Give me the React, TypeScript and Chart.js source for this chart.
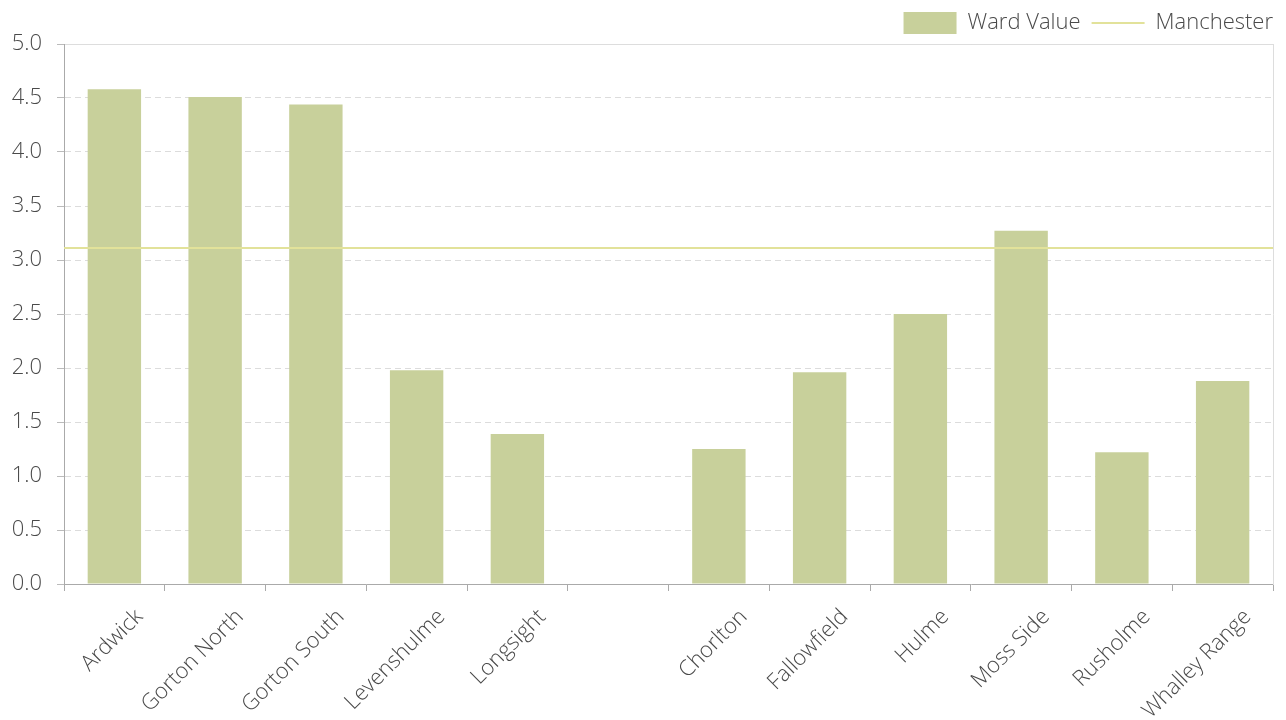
import React, { useEffect, useRef } from "react";
import { Chart, registerables } from "chart.js";

Chart.register(...registerables);

const categories = [
  "Ardwick",
  "Gorton North",
  "Gorton South",
  "Levenshulme",
  "Longsight",
  "",
  "Chorlton",
  "Fallowfield",
  "Hulme",
  "Moss Side",
  "Rusholme",
  "Whalley Range",
];
const wardValues = [4.58, 4.51, 4.44, 1.98, 1.39, null, 1.25, 1.96, 2.5, 3.27, 1.22, 1.88];
const manchesterValue = 3.11;
const yMin = 0;
const yMax = 5;
const yStep = 0.5;

const FONT = "'Open Sans', 'DejaVu Sans', sans-serif";
const TEXT = "#4a4a4a";

export default function App() {
  const ref = useRef<HTMLCanvasElement>(null);

  useEffect(() => {
    if (!ref.current) return;
    const chart = new Chart(ref.current, {
      type: "bar",
      data: {
        labels: categories,
        datasets: [
          {
            type: "bar",
            label: "Ward Value",
            data: wardValues as any,
            backgroundColor: "#c8d09b",
            borderWidth: 0,
            barPercentage: 0.53,
            categoryPercentage: 1,
            grouped: false,
            pointStyle: "rect",
            order: 1,
          } as any,
          {
            type: "line",
            label: "Manchester",
            data: [
              { x: 0, y: manchesterValue },
              { x: 1, y: manchesterValue },
            ],
            xAxisID: "xLine",
            borderColor: "#e2e29a",
            backgroundColor: "#e2e29a",
            borderWidth: 2,
            pointRadius: 0,
            pointStyle: "line",
            order: 0,
          } as any,
        ],
      },
      options: {
        animation: false,
        responsive: false,
        layout: { padding: { left: 0, right: 2, top: 1, bottom: 0 } },
        plugins: {
          tooltip: { enabled: false },
          legend: {
            position: "top",
            align: "end",
            labels: {
              usePointStyle: true,
              pointStyleWidth: 53,
              boxHeight: 22,
              padding: 11,
              color: TEXT,
              font: { family: FONT, size: 22, weight: "300" },
              sort: (a: any, b: any) => a.datasetIndex - b.datasetIndex,
            },
          },
        },
        scales: {
          x: {
            type: "category",
            offset: true,
            grid: {
              display: true,
              drawOnChartArea: false,
              drawTicks: true,
              tickLength: 7,
              tickColor: "#aaaaaa",
              offset: true,
            },
            border: { display: true, color: "#aaaaaa", width: 1 },
            ticks: {
              color: TEXT,
              font: { family: FONT, size: 22, weight: "300" },
              minRotation: 45,
              maxRotation: 45,
              padding: 13,
              labelOffset: 25,
              autoSkip: false,
            },
            afterFit: (scale: any) => {
              scale.paddingLeft = 0;
              scale.paddingRight = 0;
              scale.height = 136;
            },
          },
          xLine: {
            type: "linear",
            position: "top",
            min: 0,
            max: 1,
            offset: false,
            display: true,
            grid: { display: false, drawTicks: false },
            ticks: { display: false },
            border: { display: true, color: "#dddddd", width: 1 },
          },
          y: {
            type: "linear",
            min: yMin,
            max: yMax,
            ticks: {
              stepSize: yStep,
              color: TEXT,
              font: { family: FONT, size: 22, weight: "300" },
              padding: 15,
              callback: (v: any) => Number(v).toFixed(1),
            },
            grid: {
              color: "#dcdcdc",
              lineWidth: 1,
              drawTicks: true,
              tickLength: 7,
              tickColor: "#bbbbbb",
            },
            border: {
              display: true,
              color: "#aaaaaa",
              width: 1,
              dash: (ctx: any) => (ctx.tick && ctx.tick.value === yMax ? [] : [6, 4]),
            },
            afterFit: (scale: any) => {
              scale.width = 64;
            },
          },
          yRight: {
            type: "linear",
            position: "right",
            min: yMin,
            max: yMax,
            display: true,
            grid: { display: false, drawTicks: false },
            ticks: { display: false },
            border: { display: true, color: "#dddddd", width: 1 },
            afterFit: (scale: any) => {
              scale.width = 11;
            },
          },
        },
      } as any,
    });
    return () => chart.destroy();
  }, []);

  return (
    <div style={{ position: "fixed", left: 0, top: 0, width: 1286, height: 720, background: "#fff" }}>
      <canvas ref={ref} width={1286} height={720} style={{ width: 1286, height: 720 }} />
    </div>
  );
}
